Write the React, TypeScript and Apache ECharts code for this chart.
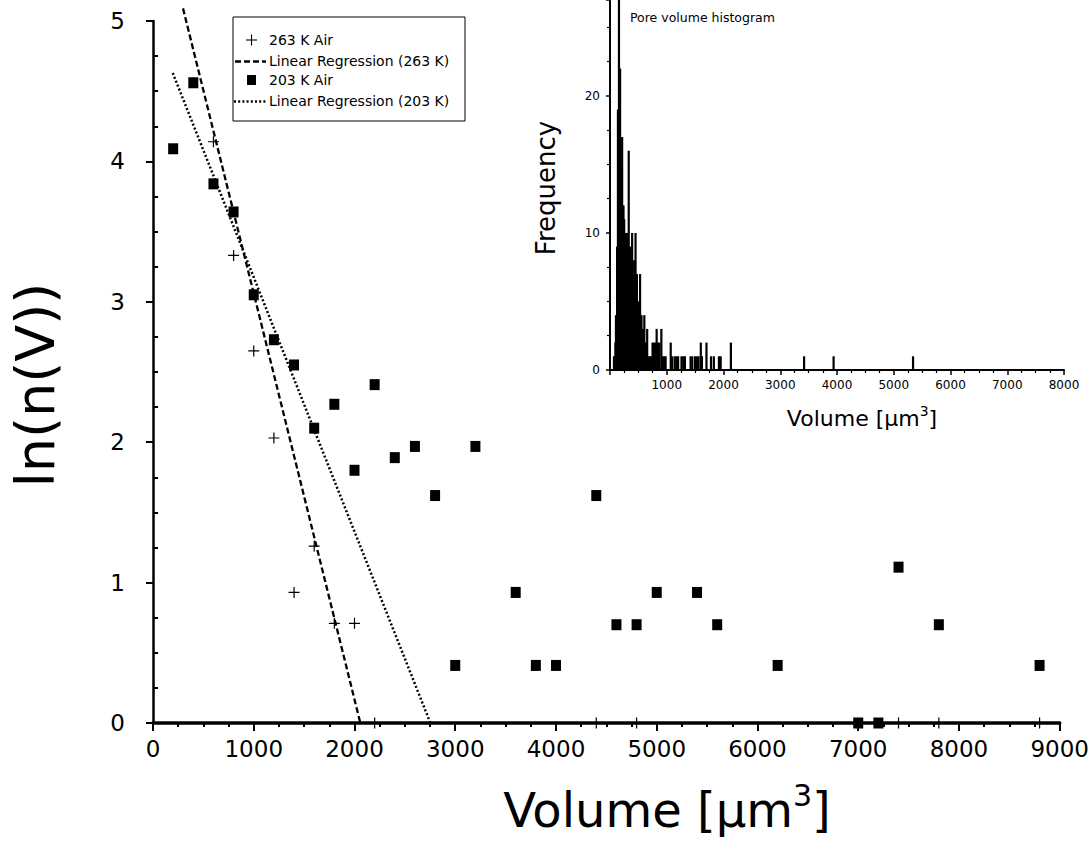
import React, { useEffect, useRef } from 'react';
import * as echarts from 'echarts';

const FONT = 'DejaVu Sans';

// Main chart: 263 K Air (+)
const vol263 = [600, 800, 1000, 1200, 1400, 1600, 1800, 2000, 2200, 4400, 4800, 7400, 7800, 8800];
const ln263 = [4.14, 3.33, 2.65, 2.03, 0.93, 1.26, 0.71, 0.71, 0, 0, 0, 0, 0, 0];

// Main chart: 203 K Air (squares)
const vol203 = [200, 400, 600, 800, 1000, 1200, 1400, 1600, 1800, 2000, 2200, 2400, 2600, 2800, 3000, 3200, 3600, 3800, 4000, 4400, 4600, 4800, 5000, 5400, 5600, 6200, 7000, 7200, 7400, 7800, 8800];
const ln203 = [4.09, 4.56, 3.84, 3.64, 3.05, 2.73, 2.55, 2.10, 2.27, 1.80, 2.41, 1.89, 1.97, 1.62, 0.41, 1.97, 0.93, 0.41, 0.41, 1.62, 0.70, 0.70, 0.93, 0.93, 0.70, 0.41, 0, 0, 1.11, 0.70, 0.41];

// Linear regression end points
const reg263X = [298, 2058];
const reg263Y = [5.09, 0];
const reg203X = [196, 2753];
const reg203Y = [4.63, 0];

// Inset histogram (volume, frequency)
const histVol = [70, 95, 105, 125, 140, 150, 158, 166, 178, 190, 202, 214, 226, 238, 250, 262, 274, 286, 298, 310, 330, 342, 354, 366, 378, 390, 402, 414, 426, 438, 450, 462, 474, 486, 498, 510, 522, 530, 555, 580, 605, 630, 655, 680, 705, 730, 750, 775, 800, 822, 845, 870, 905, 930, 955, 980, 1070, 1095, 1140, 1170, 1200, 1260, 1290, 1320, 1420, 1450, 1500, 1530, 1560, 1600, 1620, 1700, 1780, 1830, 1920, 1950, 2130, 3420, 3940, 5340];
const histFreq = [1, 2, 4, 9, 19, 19, 27, 20, 22, 15, 15, 17, 12, 12, 11, 10, 9, 9, 10, 10, 16, 9, 9, 8, 8, 10, 7, 7, 8, 8, 10, 6, 7, 5, 5, 4, 5, 7, 4, 3, 4, 2, 3, 1, 1, 1, 2, 2, 2, 3, 2, 2, 3, 1, 1, 1, 2, 1, 1, 1, 1, 1, 1, 1, 1, 1, 1, 1, 1, 2, 1, 2, 1, 1, 1, 1, 2, 1, 1, 1];

const mainXTicks = { min: 0, max: 9000, interval: 1000 };
const mainYTicks = { min: 0, max: 5, interval: 1 };
const insetXTicks = { min: 0, max: 8000, interval: 1000 };
const insetYTicks = { min: 0, max: 27, interval: 10 };

const PLUS = 'path://M4.45,0H5.55V4.45H10V5.55H5.55V10H4.45V5.55H0V4.45H4.45Z';

export default function App() {
  const ref = useRef<HTMLDivElement>(null);
  useEffect(() => {
    const chart = echarts.init(ref.current as HTMLDivElement, null, { renderer: 'svg' });
    const option: any = {
      animation: false,
      backgroundColor: '#fff',
      textStyle: { fontFamily: FONT, color: '#000' },
      grid: [
        { left: 153, right: 32, top: 21, bottom: 127 },
        { left: 610, right: 28, top: 0, bottom: 480 },
      ],
      xAxis: [
        {
          type: 'value', gridIndex: 0, ...mainXTicks,
          splitLine: { show: false },
          axisLine: { lineStyle: { color: '#000', width: 3.5 } },
          axisTick: { length: 8, lineStyle: { color: '#000', width: 2 } },
          minorTick: { show: true, splitNumber: 4, length: 4, lineStyle: { color: '#000', width: 2 } },
          axisLabel: { fontFamily: FONT, fontSize: 23, color: '#000', margin: 14, formatter: (v: number) => String(v) },
        },
        {
          type: 'value', gridIndex: 1, ...insetXTicks,
          splitLine: { show: false },
          axisLine: { lineStyle: { color: '#000', width: 2 } },
          axisTick: { length: 5, lineStyle: { color: '#000', width: 1.5 } },
          minorTick: { show: true, splitNumber: 4, length: 3, lineStyle: { color: '#000', width: 1.2 } },
          axisLabel: { fontFamily: FONT, fontSize: 12, color: '#000', margin: 9, formatter: (v: number) => (v === 0 ? '' : String(v)) },
        },
      ],
      yAxis: [
        {
          type: 'value', gridIndex: 0, ...mainYTicks,
          splitLine: { show: false },
          axisLine: { lineStyle: { color: '#000', width: 2.5 } },
          axisTick: { length: 7, lineStyle: { color: '#000', width: 2 } },
          axisLabel: { fontFamily: FONT, fontSize: 23, color: '#000', margin: 28 },
        },
        {
          type: 'value', gridIndex: 0, ...mainYTicks, position: 'left',
          splitLine: { show: false },
          axisLine: { show: false },
          axisTick: { show: false, inside: true },
          minorTick: { show: true, splitNumber: 4, length: 5, lineStyle: { color: '#000', width: 2 } },
          axisLabel: { show: false },
        },
        {
          type: 'value', gridIndex: 1, ...insetYTicks,
          splitLine: { show: false },
          axisLine: { lineStyle: { color: '#000', width: 2 } },
          axisTick: { length: 4, lineStyle: { color: '#000', width: 1.5 } },
          minorTick: { show: true, splitNumber: 4, length: 3, lineStyle: { color: '#000', width: 1.2 } },
          axisLabel: { fontFamily: FONT, fontSize: 12, color: '#000', margin: 10, showMaxLabel: false, formatter: (v: number) => (v % 10 === 0 ? String(v) : '') },
        },
      ],
      series: [
        {
          name: 'Linear Regression (263 K)', type: 'line', xAxisIndex: 0, yAxisIndex: 0,
          data: reg263X.map((x, i) => [x, reg263Y[i]]),
          symbol: 'none', clip: false,
          lineStyle: { color: '#000', width: 2.3, type: [6, 3] },
        },
        {
          name: 'Linear Regression (203 K)', type: 'line', xAxisIndex: 0, yAxisIndex: 0,
          data: reg203X.map((x, i) => [x, reg203Y[i]]),
          symbol: 'none', clip: false,
          lineStyle: { color: '#000', width: 2.5, type: [2, 2.2] },
        },
        {
          name: '263 K Air', type: 'scatter', xAxisIndex: 0, yAxisIndex: 0,
          data: vol263.map((x, i) => [x, ln263[i]]),
          symbol: PLUS, symbolSize: 11, clip: false,
          itemStyle: { color: '#000', opacity: 1 }, z: 4,
        },
        {
          name: '203 K Air', type: 'scatter', xAxisIndex: 0, yAxisIndex: 0,
          data: vol203.map((x, i) => [x, ln203[i]]),
          symbol: 'rect', symbolSize: [10, 11], clip: false,
          itemStyle: { color: '#000', opacity: 1 }, z: 4,
        },
        {
          name: 'Pore volume histogram', type: 'bar', xAxisIndex: 1, yAxisIndex: 2,
          data: histVol.map((x, i) => [x, histFreq[i]]),
          barWidth: 2.2, itemStyle: { color: '#000' }, clip: false,
        },
      ],
      graphic: [
        // y-axis title
        {
          type: 'text', x: 35, y: 385, rotation: Math.PI / 2,
          style: { text: 'ln(n(V))', font: `54px "${FONT}"`, fill: '#000', align: 'center', verticalAlign: 'middle' },
        },
        // x-axis title
        {
          type: 'text', x: 667, y: 810,
          style: {
            text: '{a|Volume [µm}{s|3}{a|]}', align: 'center', verticalAlign: 'middle', fill: '#000',
            rich: {
              a: { fontFamily: FONT, fontSize: 48, lineHeight: 60, fill: '#000' },
              s: { fontFamily: FONT, fontSize: 30, lineHeight: 30, verticalAlign: 'top', fill: '#000' },
            },
          },
        },
        // inset titles
        {
          type: 'text', x: 546, y: 188, rotation: Math.PI / 2,
          style: { text: 'Frequency', font: `26px "${FONT}"`, fill: '#000', align: 'center', verticalAlign: 'middle' },
        },
        {
          type: 'text', x: 862, y: 418,
          style: {
            text: '{a|Volume [µm}{s|3}{a|]}', align: 'center', verticalAlign: 'middle', fill: '#000',
            rich: {
              a: { fontFamily: FONT, fontSize: 22, lineHeight: 28, fill: '#000' },
              s: { fontFamily: FONT, fontSize: 14, lineHeight: 14, verticalAlign: 'top', fill: '#000' },
            },
          },
        },
        {
          type: 'text', x: 630, y: 17,
          style: { text: 'Pore volume histogram', font: `12.5px "${FONT}"`, fill: '#000', align: 'left', verticalAlign: 'middle' },
        },
        // legend
        {
          type: 'group', z: 10,
          children: [
            { type: 'rect', shape: { x: 233, y: 17, width: 232, height: 104 }, style: { fill: '#fff', stroke: '#000', lineWidth: 1 } },
            { type: 'line', shape: { x1: 246, y1: 40, x2: 257, y2: 40 }, style: { stroke: '#000', lineWidth: 1.1 } },
            { type: 'line', shape: { x1: 251.5, y1: 34.5, x2: 251.5, y2: 45.5 }, style: { stroke: '#000', lineWidth: 1.1 } },
            { type: 'text', x: 269, y: 40, style: { text: '263 K Air', font: `14px "${FONT}"`, fill: '#000', verticalAlign: 'middle' } },
            { type: 'line', shape: { x1: 235, y1: 61.5, x2: 266, y2: 61.5 }, style: { stroke: '#000', lineWidth: 2.3, lineDash: [6, 3] } },
            { type: 'text', x: 269, y: 61, style: { text: 'Linear Regression (263 K)', font: `14px "${FONT}"`, fill: '#000', verticalAlign: 'middle' } },
            { type: 'rect', shape: { x: 247, y: 75, width: 9, height: 10 }, style: { fill: '#000' } },
            { type: 'text', x: 269, y: 80, style: { text: '203 K Air', font: `14px "${FONT}"`, fill: '#000', verticalAlign: 'middle' } },
            { type: 'line', shape: { x1: 234, y1: 101.5, x2: 266, y2: 101.5 }, style: { stroke: '#000', lineWidth: 2.5, lineDash: [2, 2.2] } },
            { type: 'text', x: 269, y: 101, style: { text: 'Linear Regression (203 K)', font: `14px "${FONT}"`, fill: '#000', verticalAlign: 'middle' } },
          ],
        },
      ],
    };
    chart.setOption(option);
    return () => chart.dispose();
  }, []);
  return <div ref={ref} style={{ position: 'fixed', left: 0, top: 0, width: 1092, height: 850, background: '#fff' }} />;
}
